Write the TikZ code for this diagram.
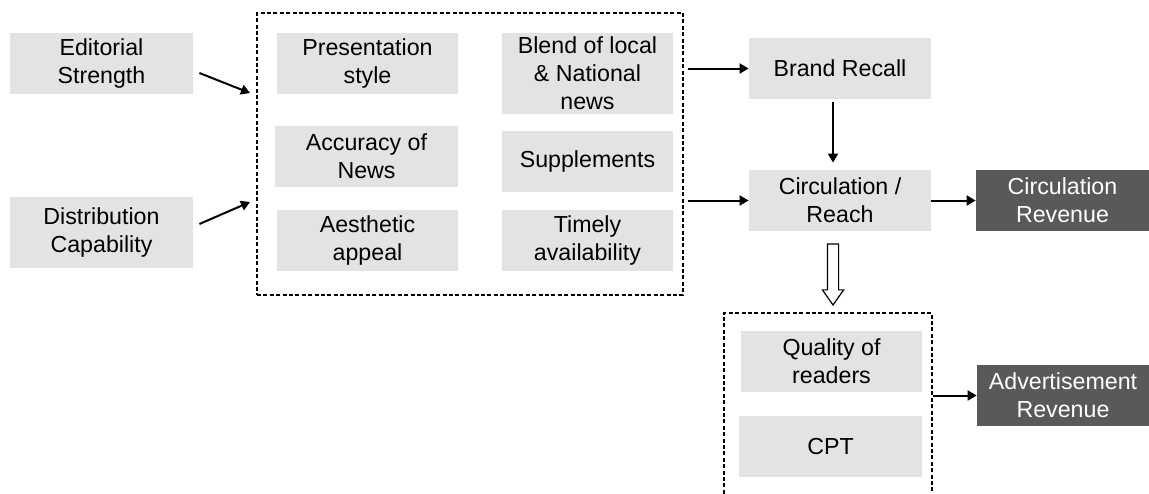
\documentclass[tikz,border=0pt]{standalone}
\usepackage{fontspec}
\setmainfont{Liberation Sans}
\usetikzlibrary{arrows.meta, shapes.arrows}
\definecolor{boxgray}{HTML}{E3E3E3}
\definecolor{revgray}{HTML}{595959}

\begin{document}
\begin{tikzpicture}[
  x=0.5pt, y=-0.5pt,
  box/.style={rectangle, fill=boxgray, minimum width=91.5pt, minimum height=30.5pt, inner sep=0pt, align=center, font=\fontsize{11.6}{14}\selectfont},
  rev/.style={box, fill=revgray, text=white, minimum width=86.5pt},
  dashgroup/.style={rectangle, draw, dash pattern=on 2pt off 1.2pt, line width=0.8pt, inner sep=0pt},
  arr/.style={-{Triangle[length=4.5pt, width=5pt]}, line width=1pt},
  flow/.style={single arrow, draw, fill=white, line width=0.6pt, rotate=-90, inner xsep=0pt, inner ysep=2.5pt, minimum height=30.5pt, single arrow head extend=2.5pt, single arrow tip angle=70}
]
\useasboundingbox (0,0) rectangle (1149,493);
\clip (0,0) rectangle (1149,493);
% inputs
\node[box] (edit) at (101.5,63.5) {Editorial\\Strength};
\node[box, minimum height=35.5pt] (distr) at (101.5,232.5) {Distribution\\Capability};
% product attributes
\node[dashgroup, minimum width=213pt, minimum height=141pt] (drivers) at (470,154) {};
\node[box, minimum width=90.5pt] (pres) at (367.5,63.5) {Presentation\\style};
\node[box] (accu) at (366.5,156.5) {Accuracy of\\News};
\node[box, minimum width=90.5pt] (aesth) at (367.5,240.5) {Aesthetic\\appeal};
\node[box, minimum width=85.5pt, minimum height=40.5pt] (blend) at (587.5,73.5) {Blend of local\\\& National\\news};
\node[box, minimum width=85.5pt] (supp) at (587.5,161.5) {Supplements};
\node[box, minimum width=85.5pt] (timely) at (587.5,240.5) {Timely\\availability};
% outcomes
\node[box, minimum width=91pt] (recall) at (840,68.5) {Brand Recall};
\node[box, minimum width=91pt] (circ) at (840,200.5) {Circulation /\\Reach};
\node[rev] (circrev) at (1062.5,200.5) {Circulation\\Revenue};
\node[flow] (shift) at (833,270.5) {};
\node[dashgroup, minimum width=104pt, minimum height=110pt] (readers) at (828,423) {};
\node[box, minimum width=90.5pt] (qual) at (831.5,361.5) {Quality of\\readers};
\node[box] (cpt) at (830.5,446.5) {CPT};
\node[rev, minimum width=86pt] (adrev) at (1063,395.5) {Advertisement\\Revenue};
% connectors
\coordinate (editin) at (250,93);
\coordinate (distrin) at (250,202);
\draw[arr] ([xshift=3pt, yshift=-4.75pt]edit.east) -- (editin);
\draw[arr] ([xshift=3pt, yshift=4.25pt]distr.east) -- (distrin);
\foreach \b in {recall, circ}
  \draw[arr, shorten <=2pt] (drivers.east |- \b.west) -- (\b.west);
\draw[arr, shorten <=1.5pt, shorten >=3.5pt] ([xshift=-3.5pt]recall.south) -- ([xshift=-3.5pt]circ.north);
\draw[arr] (circ.east) -- (circrev.west);
\draw[arr] (readers.east |- adrev.west) -- (adrev.west);
\end{tikzpicture}
\end{document}
